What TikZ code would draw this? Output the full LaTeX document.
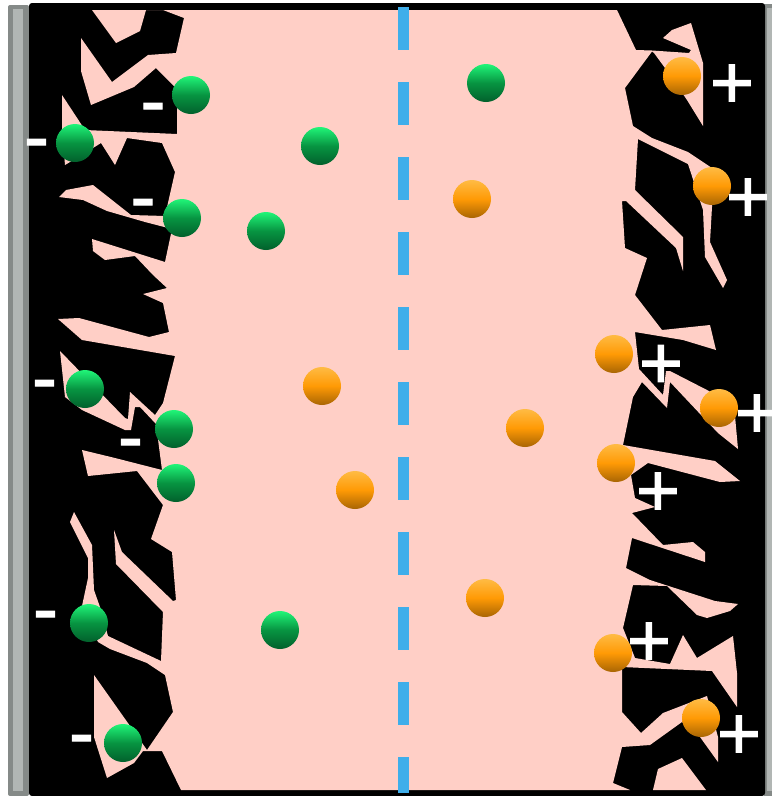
\documentclass[tikz,border=0pt]{standalone}
\usepackage{fontspec}
\newfontfamily\signfont[FakeBold=1.5]{Liberation Sans}
\definecolor{pore}{HTML}{FFCFC6}
\definecolor{rimgray}{HTML}{858A88}
\definecolor{coregray}{HTML}{B1B6B4}
\definecolor{membrane}{HTML}{3FAEEA}
\definecolor{aniontop}{HTML}{20F578}
\definecolor{anionmid}{HTML}{079441}
\definecolor{aniondark}{HTML}{02602C}
\definecolor{cationtop}{HTML}{FFBB44}
\definecolor{cationmid}{HTML}{FF9A05}
\definecolor{cationdark}{HTML}{A86504}
\begin{document}
\begin{tikzpicture}[x=1pt,y=-1pt]
\tikzset{
  anion/.style={circle,inner sep=0pt,minimum size=38pt,top color=aniontop,bottom color=aniondark,middle color=anionmid},
  cation/.style={circle,inner sep=0pt,minimum size=38pt,top color=cationtop,bottom color=cationdark,middle color=cationmid},
  sign/.style={text=white,inner sep=0pt,anchor=base,font=\signfont\fontsize{75}{75}\selectfont},
}
\useasboundingbox (0,0) rectangle (772,796);

% electrodes
\fill[rimgray,rounded corners=2pt] (8,5) rectangle (29,796);
\fill[coregray] (13,9) rectangle (23,791);
\fill[rimgray] (764,4) rectangle (772,796);
\fill[coregray] (767,8) rectangle (772,791);
\fill[black,rounded corners=3pt] (29,3) rectangle (765,796);

% electrolyte between the carbon walls
\fill[pore] (92,10) -- (116,43) -- (140,31) -- (146,10) -- (163,10) -- (184,18) -- (176,53)
  -- (148,55) -- (112,82) -- (81,38) -- (81,71) -- (91,105) -- (134,87) -- (156,68)
  -- (177,89) -- (177,134) -- (85,130) -- (62,95) -- (62,130) -- (65,165) -- (85,153)
  -- (101,143) -- (115,165) -- (127,138) -- (162,143) -- (175,172) -- (165,216)
  -- (131,215) -- (93,185) -- (66,190) -- (59,197) -- (83,200) -- (107,211) -- (145,222)
  -- (172,229) -- (165,262) -- (92,239) -- (93,251) -- (105,260) -- (135,256) -- (153,275)
  -- (167,288) -- (143,294) -- (163,303) -- (169,332) -- (149,337) -- (79,318) -- (58,319)
  -- (82,340) -- (175,356) -- (163,403) -- (155,415) -- (130,392) -- (128,419) -- (125,418)
  -- (60,351) -- (65,397) -- (82,410) -- (125,430) -- (131,430) -- (135,407) -- (140,407)
  -- (156,424) -- (162,470) -- (115,458) -- (82,450) -- (88,476) -- (137,471) -- (163,505)
  -- (151,539) -- (172,552) -- (176,600) -- (173,601) -- (122,552) -- (114,530) -- (116,564)
  -- (163,612) -- (161,661) -- (108,636) -- (100,607) -- (94,590) -- (92,545) -- (74,512)
  -- (70,522) -- (88,558) -- (88,578) -- (82,606) -- (98,642) -- (110,649) -- (147,663)
  -- (165,675) -- (173,712) -- (147,750) -- (94,675) -- (94,737) -- (107,778) -- (134,763)
  -- (143,751) -- (162,751) -- (181,790) -- (630,790) -- (613,783) -- (622,747) -- (650,745)
  -- (682,722) -- (700,737) -- (718,762) -- (718,737) -- (707,696) -- (663,713) -- (641,733)
  -- (622,712) -- (622,667) -- (712,671) -- (737,707) -- (737,673) -- (733,636) -- (697,658)
  -- (683,635) -- (670,664) -- (635,658) -- (623,628) -- (633,585) -- (667,586) -- (697,615)
  -- (707,618) -- (730,611) -- (738,604) -- (715,601) -- (650,580) -- (626,568) -- (632,538)
  -- (705,562) -- (705,552) -- (693,542) -- (663,545) -- (632,513) -- (655,507) -- (635,498)
  -- (631,475) -- (648,463) -- (720,482) -- (740,481) -- (715,461) -- (623,445) -- (633,397)
  -- (642,382) -- (667,408) -- (670,382) -- (718,433) -- (738,449) -- (734,405) -- (707,390)
  -- (670,371) -- (666,371) -- (663,395) -- (639,369) -- (635,332) -- (683,340) -- (716,350)
  -- (710,325) -- (662,330) -- (635,295) -- (647,258) -- (625,248) -- (622,201) -- (626,201)
  -- (676,248) -- (683,271) -- (683,237) -- (635,190) -- (638,139) -- (688,164) -- (703,210)
  -- (705,257) -- (723,288) -- (727,280) -- (710,242) -- (712,207) -- (715,170) -- (688,152)
  -- (652,138) -- (633,126) -- (625,88) -- (652,51.5) -- (654,53) -- (665,68) -- (687,100)
  -- (703,126) -- (703,63) -- (691,23) -- (672,30) -- (663,38) -- (691,50) -- (689,53)
  -- (652,50.5) -- (636,50) -- (617,10) -- cycle;
\fill[pore] (653,790) -- (658,769) -- (682,758) -- (706,790) -- cycle;

% membrane
\coordinate (memtop) at (403.5,7);
\coordinate (membot) at (403.5,793);
\draw[membrane,line width=11pt,dash pattern=on 43pt off 32pt] (memtop) -- (membot);

% negative ions
\node[anion] (g1) at (191,95) {};
\node[anion] (g2) at (75,143) {};
\node[anion] (g3) at (320,146) {};
\node[anion] (g4) at (182,218) {};
\node[anion] (g5) at (266,231) {};
\node[anion] (g6) at (85,389) {};
\node[anion] (g7) at (174,429) {};
\node[anion] (g8) at (176,483) {};
\node[anion] (g9) at (89,623) {};
\node[anion] (g10) at (280,630) {};
\node[anion] (g11) at (123,743) {};
\node[anion] (g12) at (486,83) {};

% positive ions
\node[cation] (o1) at (682,76) {};
\node[cation] (o2) at (712,186) {};
\node[cation] (o3) at (472,199) {};
\node[cation] (o4) at (614,354) {};
\node[cation] (o5) at (719,408) {};
\node[cation] (o6) at (322,386) {};
\node[cation] (o7) at (525,428) {};
\node[cation] (o8) at (616,463) {};
\node[cation] (o9) at (355,490) {};
\node[cation] (o10) at (485,598) {};
\node[cation] (o11) at (613,653) {};
\node[cation] (o12) at (701,718) {};

% signs, placed on their baselines
\node[sign] (m1) at (36.5,162) {-};
\node[sign] (m2) at (153,126) {-};
\node[sign] (m3) at (143,222) {-};
\node[sign] (m4) at (44.5,403) {-};
\node[sign] (m5) at (130.5,462) {-};
\node[sign] (m6) at (45.5,634) {-};
\node[sign] (m7) at (81.5,758) {-};
\node[sign] (p1) at (732,108) {+};
\node[sign] (p2) at (748,222) {+};
\node[sign] (p3) at (661,388.5) {+};
\node[sign] (p4) at (757,438) {+};
\node[sign] (p5) at (658,516) {+};
\node[sign] (p6) at (649,666) {+};
\node[sign] (p7) at (739,759) {+};
\end{tikzpicture}
\end{document}
